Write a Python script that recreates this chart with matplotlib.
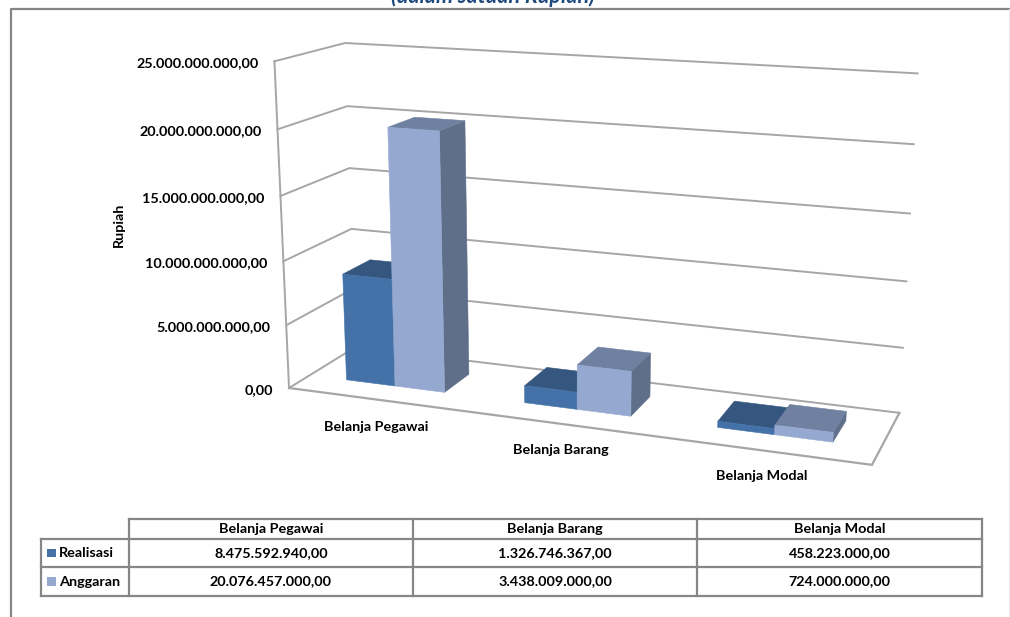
import numpy as np

import matplotlib
matplotlib.use("Agg")
import matplotlib.pyplot as plt
from matplotlib.patches import Polygon, Rectangle

categories = ["Belanja Pegawai", "Belanja Barang", "Belanja Modal"]
series_names = ["Realisasi", "Anggaran"]
realisasi = [8475592940.0, 1326746367.0, 458223000.0]
anggaran = [20076457000.0, 3438009000.0, 724000000.0]
levels = [0.0, 5e9, 10e9, 15e9, 20e9, 25e9]

vmax = 25e9

# pixel positions of the box corners, used to fit the perspective
wall_front = [(289, 389), (287, 325), (284, 260), (281, 195), (277, 130), (273, 62)]
wall_back = [(354, 347), (353, 289), (351.5, 229), (350, 168), (348, 106), (345, 43)]
wall_right = [(899, 412), (903, 348), (907, 282), (910, 214), (914, 144), (917, 73)]
floor_right = (872, 465)

col_front = ["#4472A8", "#95A9D0"]
col_top = ["#35567F", "#6F80A0"]
col_side = ["#2E4C72", "#5F6F8A"]
grid_col = "#A6A6A6"
frame_col = "#868686"
txt_col = "#000000"

bar_x0 = 0.215
bar_w = 0.28
z0 = 0.3
z1 = 0.72

fs = 10.4
fam = ["Lato", "DejaVu Sans"]


def fit_proj():
    pts3 = []
    pts2 = []
    for i, lev in enumerate(levels):
        v = lev / vmax
        pts3 += [(0, v, 0), (0, v, 1), (3, v, 1)]
        pts2 += [wall_front[i], wall_back[i], wall_right[i]]
    pts3.append((3, 0, 0))
    pts2.append(floor_right)

    A = []
    for (x, y, z), (u, w) in zip(pts3, pts2):
        A.append([x, y, z, 1, 0, 0, 0, 0, -u*x, -u*y, -u*z, -u])
        A.append([0, 0, 0, 0, x, y, z, 1, -w*x, -w*y, -w*z, -w])
    _, _, vt = np.linalg.svd(np.array(A, dtype=float))
    return vt[-1].reshape(3, 4)


P = fit_proj()


def proj(x, val, z):
    h = P @ np.array([x, val / vmax, z, 1.0])
    return h[0] / h[2], h[1] / h[2]


def fmt(v):
    s = "{0:,.2f}".format(v)
    return s.replace(",", "#").replace(".", ",").replace("#", ".")


fig = plt.figure(figsize=(10.10, 6.17), dpi=100)
ax = fig.add_axes([0, 0, 1, 1])
ax.set_xlim(0, 1010)
ax.set_ylim(617, 0)
ax.axis("off")

# chart frame
ax.plot([11, 11, 1010], [617, 9, 9], color=frame_col, lw=1.6, clip_on=False)
ax.plot([1009, 1009], [9, 617], color="#EFEFEF", lw=0.8)

ax.text(493, 3, "(dalam satuan Rupiah)", color="#1F497D", fontsize=15.5,
        fontweight="bold", style="italic", family=fam, ha="center", va="baseline")

# walls and floor
for lev in levels:
    pts = [proj(0, lev, 0), proj(0, lev, 1), proj(3, lev, 1)]
    ax.plot(*zip(*pts), color=grid_col, lw=1.4, solid_joinstyle="miter")
    xt, yt = proj(0, lev, 0)
    ax.text(xt - 16, yt + 2, fmt(lev), fontsize=fs, fontweight="bold", family=fam,
            ha="right", va="center", color=txt_col)

pts = [proj(0, 0, 0), proj(0, vmax, 0)]
ax.plot(*zip(*pts), color=grid_col, lw=1.4)
pts = [proj(0, 0, 0), proj(3, 0, 0), proj(3, 0, 1)]
ax.plot(*zip(*pts), color=grid_col, lw=1.6, solid_joinstyle="miter")

# bars
for c in range(len(categories)):
    for s, vals in enumerate([realisasi, anggaran]):
        xa = c + bar_x0 + s * bar_w
        xb = xa + bar_w
        v = vals[c]
        front = [proj(xa, 0, z0), proj(xb, 0, z0), proj(xb, v, z0), proj(xa, v, z0)]
        top = [proj(xa, v, z0), proj(xb, v, z0), proj(xb, v, z1), proj(xa, v, z1)]
        side = [proj(xb, 0, z0), proj(xb, 0, z1), proj(xb, v, z1), proj(xb, v, z0)]
        for poly, col in [(side, col_side[s]), (top, col_top[s]), (front, col_front[s])]:
            ax.add_patch(Polygon(poly, closed=True, fc=col, ec=col, lw=0.4, zorder=2.5))

# category labels
cat_xy = [(376, 427), (561, 450), (762, 476)]
for name, (xt, yt) in zip(categories, cat_xy):
    ax.text(xt, yt, name, fontsize=fs, fontweight="bold", family=fam,
            ha="center", va="center", color=txt_col)

ax.text(119, 225, "Rupiah", fontsize=fs, fontweight="bold", family=fam, rotation=90,
        ha="center", va="center", color=txt_col)

# data table
col_x = [41, 129, 413, 697, 982]
row_y = [519, 539, 567, 596]
tlw = 1.6
for x in col_x[1:]:
    ax.plot([x, x], [row_y[0], row_y[-1]], color=frame_col, lw=tlw)
ax.plot([col_x[0], col_x[0]], [row_y[1], row_y[-1]], color=frame_col, lw=tlw)
ax.plot([col_x[1], col_x[-1]], [row_y[0], row_y[0]], color=frame_col, lw=tlw)
for y in row_y[1:]:
    ax.plot([col_x[0], col_x[-1]], [y, y], color=frame_col, lw=tlw)

for j, name in enumerate(categories):
    xc = 0.5 * (col_x[j+1] + col_x[j+2])
    ax.text(xc, 0.5 * (row_y[0] + row_y[1]), name, fontsize=fs, fontweight="bold",
            family=fam, ha="center", va="center", color=txt_col)

for i, vals in enumerate([realisasi, anggaran]):
    yc = 0.5 * (row_y[i+1] + row_y[i+2])
    ax.add_patch(Rectangle((47, yc - 4.5), 8.5, 8.5, fc=col_front[i], ec="none"))
    ax.text(59, yc, series_names[i], fontsize=fs, fontweight="bold", family=fam,
            ha="left", va="center", color=txt_col)
    for j, v in enumerate(vals):
        xc = 0.5 * (col_x[j+1] + col_x[j+2])
        ax.text(xc, yc, fmt(v), fontsize=fs, fontweight="bold", family=fam,
                ha="center", va="center", color=txt_col)

fig.savefig("out.png", dpi=100)
